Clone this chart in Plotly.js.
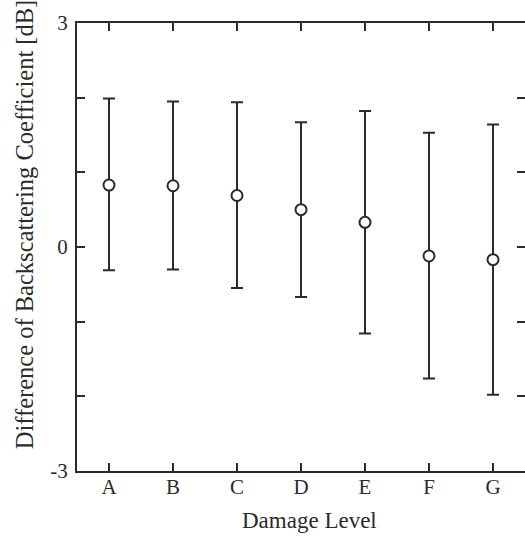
<!DOCTYPE html>
<html>
<head>
<meta charset="utf-8">
<script src="https://cdn.plot.ly/plotly-3.0.1.min.js"></script>
<style>
html,body{margin:0;padding:0;overflow:hidden;background:#fff;}
#chart{width:530px;height:536px;}
</style>
</head>
<body>
<div id="chart"></div>
<script>
const categories = ['A','B','C','D','E','F','G'];
const means = [0.83, 0.82, 0.69, 0.50, 0.33, -0.12, -0.17];
const upper = [1.99, 1.95, 1.94, 1.67, 1.82, 1.53, 1.64];
const lower = [-0.31, -0.30, -0.55, -0.67, -1.16, -1.76, -1.98];
const yTickVals = [-3, -2, -1, 0, 1, 2, 3];
const yTickText = ['-3', '', '', '0', '', '', '3'];
const xTitle = 'Damage Level';
const yTitle = 'Difference of Backscattering Coefficient [dB]';

const xIdx = categories.map((c, i) => i);
const errPlus = upper.map((u, i) => u - means[i]);
const errMinus = means.map((m, i) => m - lower[i]);

const ink = '#2b2b2b';

const trace = {
  type: 'scatter',
  mode: 'markers',
  x: xIdx,
  y: means,
  marker: {symbol: 'circle', size: 11, color: '#ffffff', line: {color: ink, width: 2}},
  error_y: {type: 'data', symmetric: false, array: errPlus, arrayminus: errMinus,
            color: ink, thickness: 2, width: 6},
  showlegend: false,
  hoverinfo: 'none'
};

const layout = {
  width: 530, height: 536,
  margin: {l: 77, r: 5, t: 23, b: 65},
  paper_bgcolor: '#ffffff',
  plot_bgcolor: '#ffffff',
  font: {family: '"Liberation Serif", "DejaVu Serif", serif', color: ink, size: 21},
  xaxis: {
    range: [-0.5, 6.5],
    tickvals: xIdx,
    ticktext: categories,
    ticks: 'inside', ticklen: 8, tickwidth: 2, tickcolor: ink,
    showline: true, linecolor: ink, linewidth: 2, mirror: 'ticks',
    showgrid: false, zeroline: false,
    tickfont: {size: 21},
    ticklabelstandoff: -4
  },
  yaxis: {
    range: [-3, 3],
    tickvals: yTickVals,
    ticktext: yTickText,
    ticks: 'inside', ticklen: 8, tickwidth: 2, tickcolor: ink,
    showline: true, linecolor: ink, linewidth: 2, mirror: 'ticks',
    showgrid: false, zeroline: false,
    tickfont: {size: 21},
    ticklabelstandoff: 3
  },
  annotations: [
    {text: xTitle, xref: 'paper', yref: 'paper', x: 0.52, y: -0.1116,
     xanchor: 'center', yanchor: 'middle', showarrow: false, font: {size: 23, color: ink}},
    {text: yTitle, xref: 'paper', yref: 'paper', x: -0.118, y: 0.549, textangle: -90,
     xanchor: 'center', yanchor: 'middle', showarrow: false, font: {size: 24.5, color: ink}}
  ]
};

Plotly.newPlot('chart', [trace], layout, {staticPlot: true, displayModeBar: false});
</script>
</body>
</html>
